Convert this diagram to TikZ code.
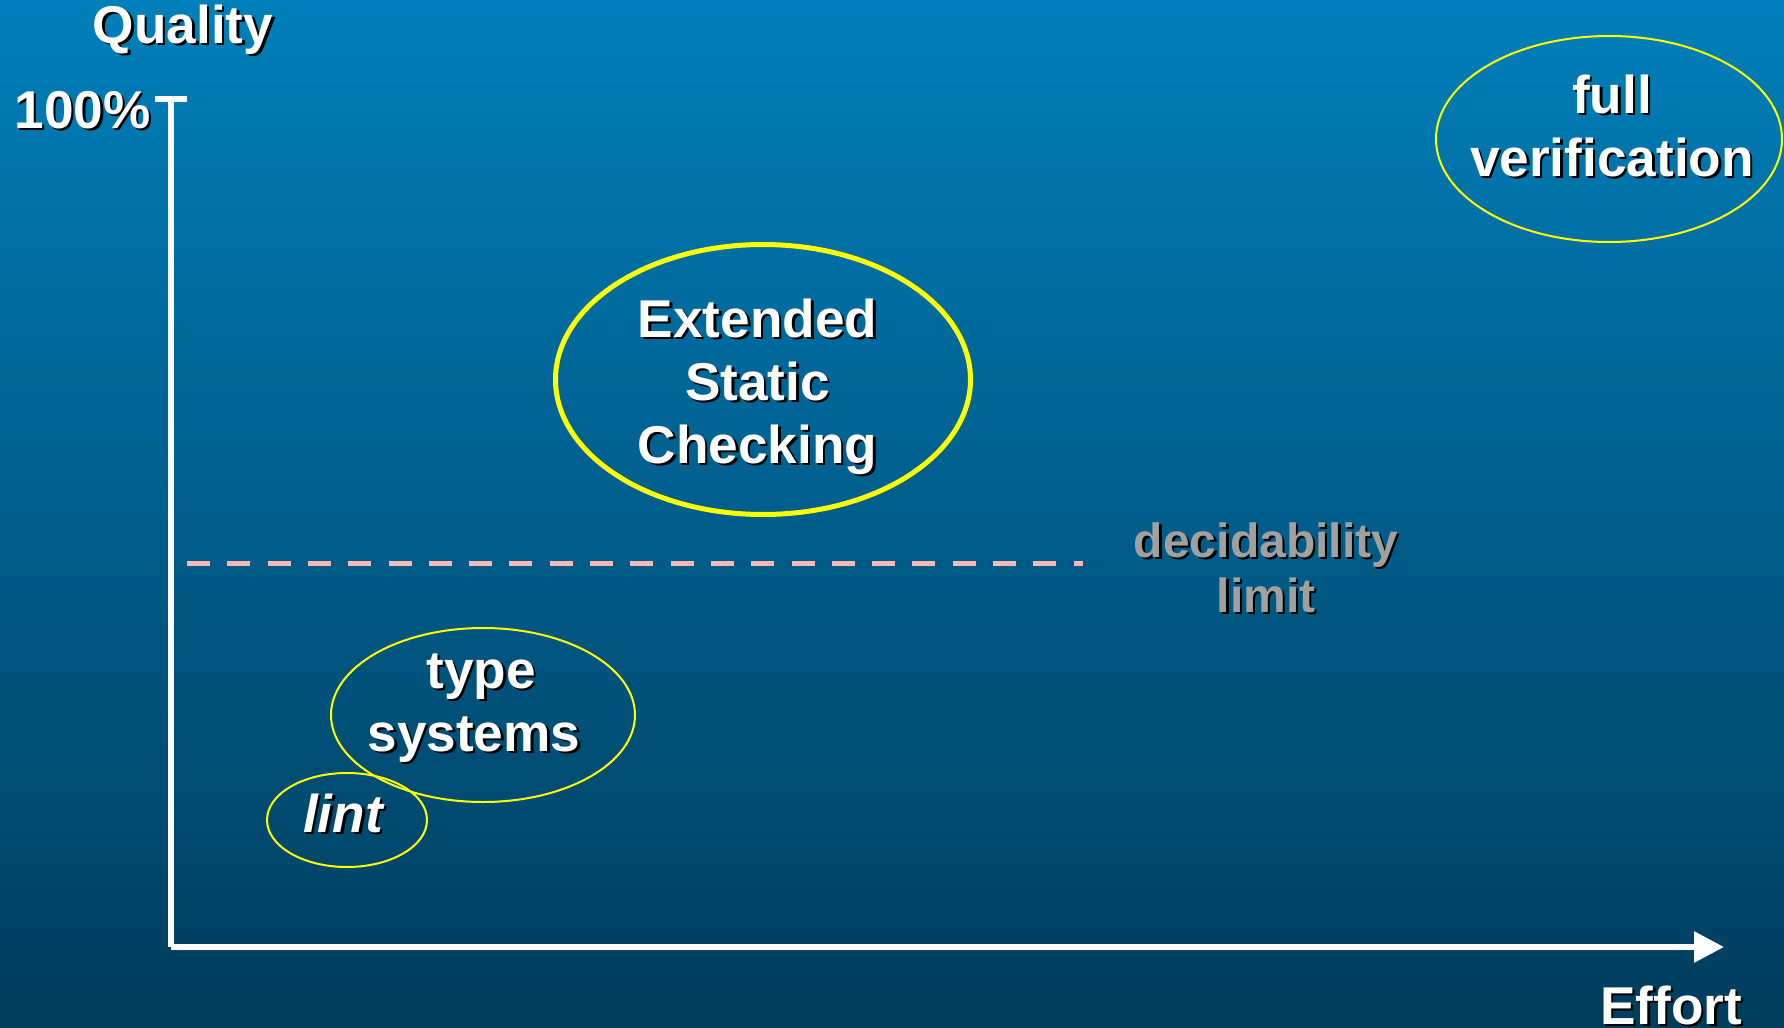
\documentclass[tikz,border=0pt]{standalone}
\usepackage{fontspec}
\setmainfont{Liberation Sans}
\usetikzlibrary{shapes.geometric,arrows.meta}
\definecolor{bgtop}{RGB}{0,127,186}
\definecolor{bgbot}{RGB}{0,60,92}
\definecolor{dashpink}{RGB}{250,185,178}
\definecolor{limitgray}{RGB}{160,160,160}
\definecolor{ringyellow}{RGB}{255,255,0}
\newcommand\txsh[1]{\leavevmode\rlap{\kern1.25pt\raisebox{-1.25pt}{\color{black}#1}}#1}
\newcommand\txlines[1]{\begin{tabular}[t]{@{}c@{}}#1\end{tabular}}
\begin{document}
\begin{tikzpicture}[x=0.5pt,y=-0.5pt,
  lbl/.style={text=white, font=\fontsize{26.6}{31.5}\selectfont\bfseries, inner sep=0pt, anchor=base},
  ring/.style={ellipse, draw=ringyellow, inner sep=0pt, outer sep=0pt},
  axis/.style={draw=white, line width=3pt},
  limitline/.style={draw=dashpink, line width=2.5pt, dash pattern=on 11.5pt off 8.65pt}]
\useasboundingbox (0,0) rectangle (1784,1028);
\shade[top color=bgtop, bottom color=bgbot] (0,0) rectangle (1784,1028);
% rings
\node[ring, line width=1pt, minimum width=173pt, minimum height=103pt] (fv) at (1609,139) {};
\node[ring, line width=2.5pt, minimum width=207.5pt, minimum height=135pt] (esc) at (763,379.5) {};
\node[ring, line width=1pt, minimum width=152pt, minimum height=87pt] (ts) at (483,715) {};
\node[ring, line width=1pt, minimum width=80pt, minimum height=47pt] (lint) at (347,820) {};
% texts
\node[lbl] (fvt) at (1612,113) {\txlines{\txsh{full}\\\txsh{verification}}};
\node[lbl] (esct) at (757.5,337) {\txlines{\txsh{Extended}\\\txsh{Static}\\\txsh{Checking}}};
\node[lbl] (tst) at (474,688) {\txlines{\txsh{type}\hspace*{-7pt}\\\txsh{systems}}};
\node[lbl, font=\fontsize{26.6}{31.5}\selectfont\bfseries\itshape] (lintt) at (343,832) {\txsh{lint}};
\node[lbl] (q) at (183,43) {\txsh{Quality}};
\node[lbl] (pct) at (82.5,128) {\txsh{100\%}};
\node[lbl] (eff) at (1671,1024) {\txsh{Effort}};
\node[lbl, text=limitgray, font=\fontsize{24}{27.5}\selectfont\bfseries] (dlt) at (1266,557) {\txlines{\txsh{decidability}\\\txsh{limit}}};
% axes
\coordinate (ytop) at (171,99);
\coordinate (orig) at (171,947);
\coordinate (xend) at (1724,947);
\coordinate (tickl) at (155,99);
\coordinate (tickr) at (187,99);
\draw[axis] (tickl) -- (tickr);
\draw[axis] (ytop) -- (orig);
\draw[axis, -{Triangle[length=15pt,width=15pt]}] (orig) -- (xend);
% decidability limit
\coordinate (dl0) at (187,563);
\coordinate (dl1) at (1083,563);
\draw[limitline] (dl0) -- (dl1);
\end{tikzpicture}
\end{document}
